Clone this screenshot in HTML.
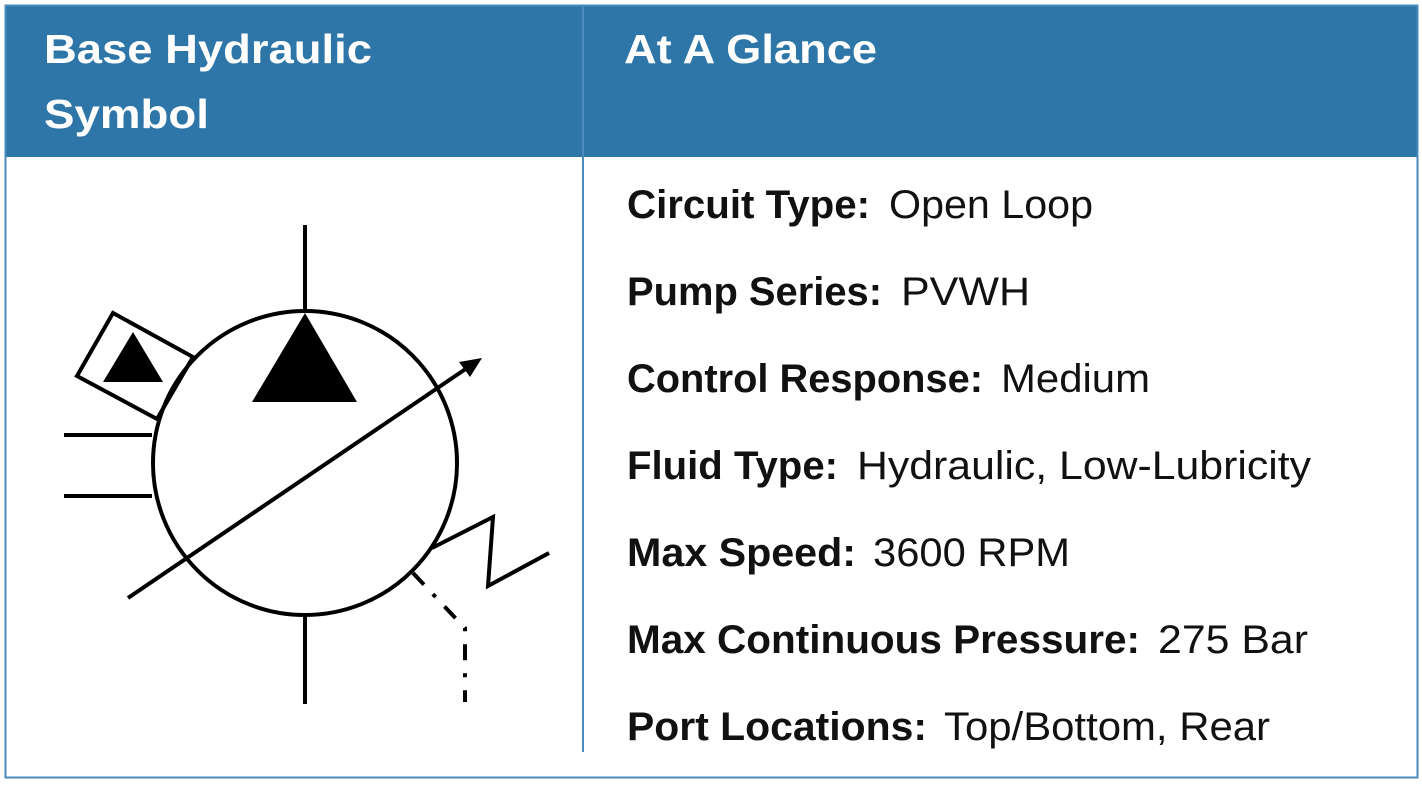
<!DOCTYPE html>
<html><head><meta charset="utf-8"><style>
html,body{margin:0;padding:0;background:#fff;}
svg{display:block;}
</style></head><body>
<svg width="1422" height="785" viewBox="0 0 1422 785" xmlns="http://www.w3.org/2000/svg">
<rect x="0" y="0" width="1422" height="785" fill="#fff"/>
<rect x="5" y="5" width="1413" height="152" fill="#2e76a8"/>
<rect x="5.5" y="5.5" width="1412" height="772" fill="none" stroke="#4a8bbd" stroke-width="2"/>
<line x1="583" y1="5" x2="583" y2="752" stroke="#4a8bbd" stroke-width="2"/>
<g font-family="Liberation Sans, sans-serif" font-weight="bold" fill="#fff" font-size="41">
<text x="44" y="63" textLength="328" lengthAdjust="spacingAndGlyphs">Base Hydraulic</text>
<text x="44" y="128" textLength="165" lengthAdjust="spacingAndGlyphs">Symbol</text>
<text x="624" y="63" textLength="253" lengthAdjust="spacingAndGlyphs">At A Glance</text>
</g>
<g font-family="Liberation Sans, sans-serif" font-size="40" fill="#111">
<text x="627" y="218" font-weight="bold" textLength="243" lengthAdjust="spacingAndGlyphs">Circuit Type:</text>
<text x="889" y="218" textLength="204" lengthAdjust="spacingAndGlyphs">Open Loop</text>
<text x="627" y="305" font-weight="bold" textLength="255" lengthAdjust="spacingAndGlyphs">Pump Series:</text>
<text x="901" y="305" textLength="129" lengthAdjust="spacingAndGlyphs">PVWH</text>
<text x="627" y="392" font-weight="bold" textLength="356" lengthAdjust="spacingAndGlyphs">Control Response:</text>
<text x="1001" y="392" textLength="149" lengthAdjust="spacingAndGlyphs">Medium</text>
<text x="627" y="479" font-weight="bold" textLength="211" lengthAdjust="spacingAndGlyphs">Fluid Type:</text>
<text x="857" y="479" textLength="454" lengthAdjust="spacingAndGlyphs">Hydraulic, Low-Lubricity</text>
<text x="627" y="566" font-weight="bold" textLength="229" lengthAdjust="spacingAndGlyphs">Max Speed:</text>
<text x="873" y="566" textLength="197" lengthAdjust="spacingAndGlyphs">3600 RPM</text>
<text x="627" y="653" font-weight="bold" textLength="513" lengthAdjust="spacingAndGlyphs">Max Continuous Pressure:</text>
<text x="1158" y="653" textLength="150" lengthAdjust="spacingAndGlyphs">275 Bar</text>
<text x="627" y="740" font-weight="bold" textLength="300" lengthAdjust="spacingAndGlyphs">Port Locations:</text>
<text x="944" y="740" textLength="326" lengthAdjust="spacingAndGlyphs">Top/Bottom, Rear</text>
</g>
<g stroke="#000" stroke-width="4" fill="none">
<line x1="305" y1="225" x2="305" y2="312"/>
<line x1="305" y1="615" x2="305" y2="704"/>
<polygon points="113,313 77,376 157,419 193,357" fill="#fff"/>
<circle cx="305" cy="463" r="152"/>
<line x1="64" y1="435" x2="152" y2="435"/>
<line x1="64" y1="496" x2="152" y2="496"/>
<line x1="128" y1="598" x2="470" y2="366"/>
<polyline points="432,548 493,517 488,586 549,553" stroke-linejoin="miter"/>
<path d="M413,573 L460,623 L465,628 L465,702" stroke-dasharray="16,13,4,13"/>
</g>
<polygon points="305,313 252,402 357,402" fill="#000"/>
<polygon points="133,332 103,382 163,382" fill="#000"/>
<polygon points="482,358 459,362 470,377" fill="#000"/>
</svg>
</body></html>
